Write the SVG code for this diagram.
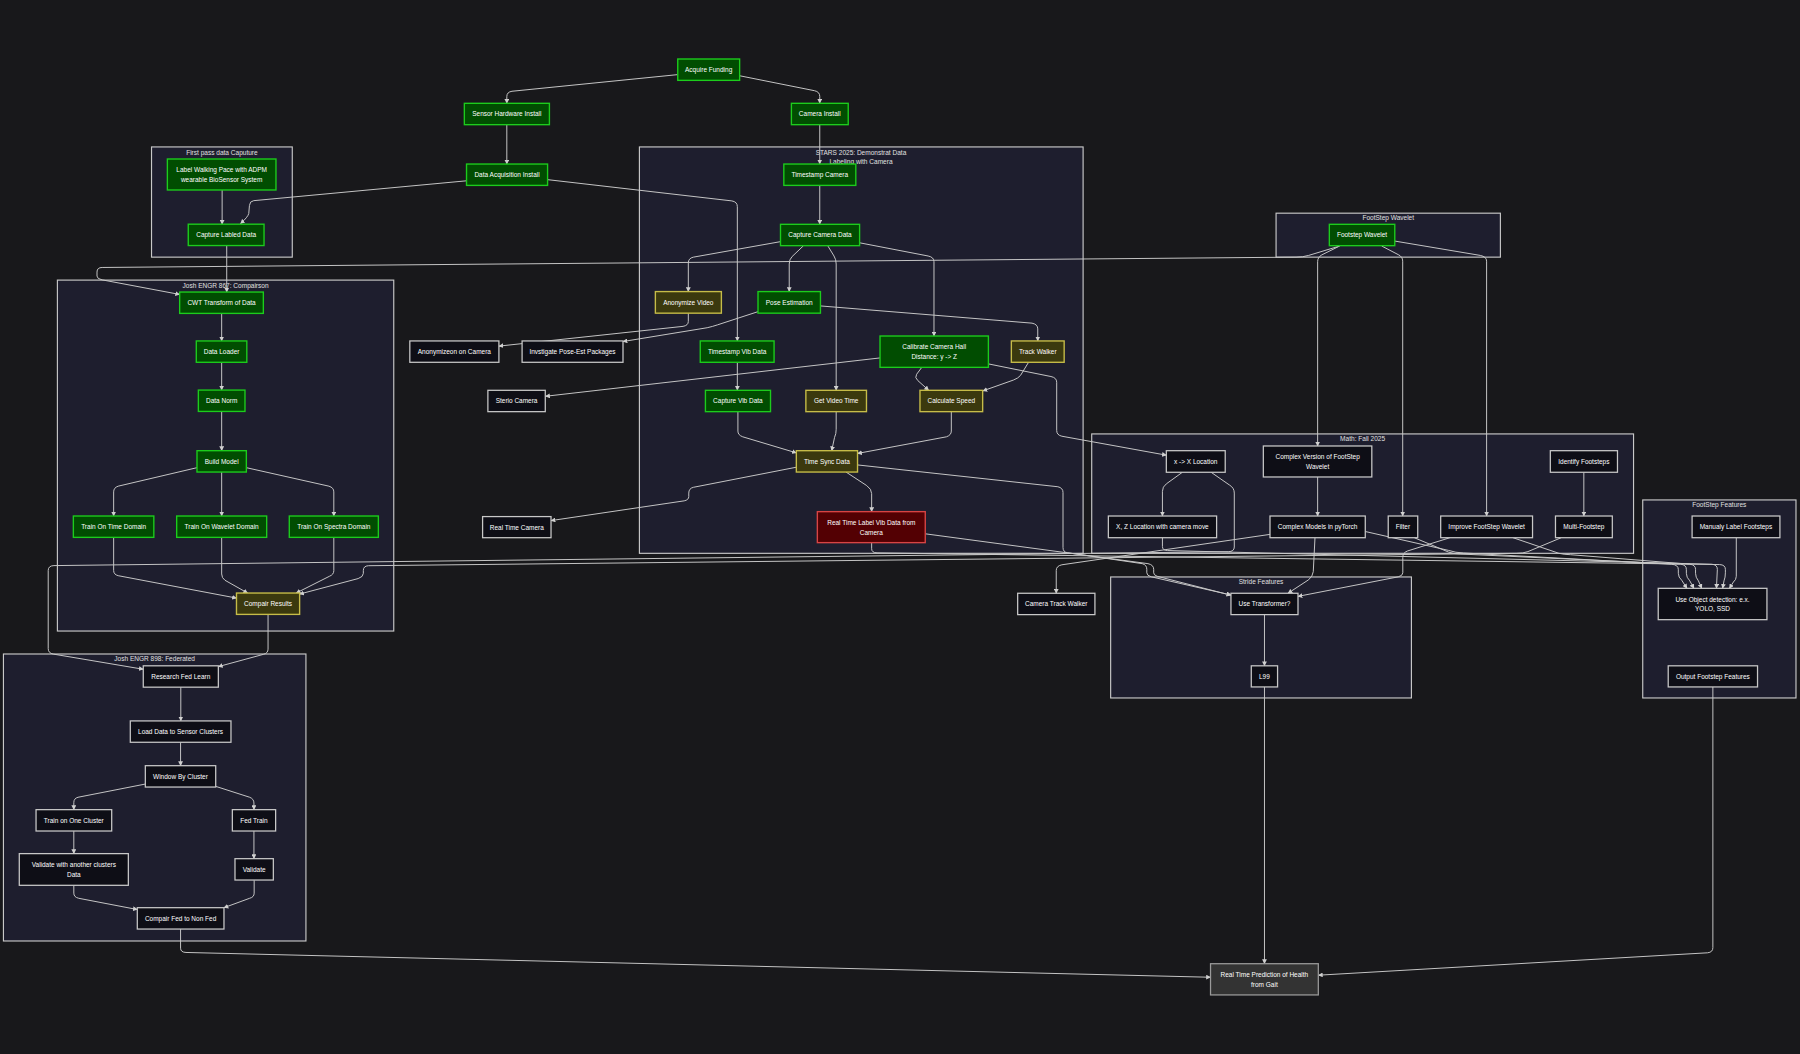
<svg xmlns="http://www.w3.org/2000/svg" width="1800" height="1054" viewBox="0 0 1800 1054">
<defs>
<style>
.cl{fill:#1e1e2e;stroke:#c8c8c8;stroke-width:1}
.ct{font-family:"Liberation Sans",Arial,sans-serif;font-size:5.7px;fill:#e0e0e0;text-anchor:middle;dominant-baseline:central}
.e{fill:none;stroke:#c8c8c8;stroke-width:0.85;marker-end:url(#ah)}
.nt{font-family:"Liberation Sans",Arial,sans-serif;font-size:5.66px;fill:#fff;text-anchor:middle;dominant-baseline:central}
.g rect{fill:#014d01;stroke:#1ccc1c;stroke-width:1.2}
.y rect{fill:#3b390e;stroke:#c6bc48;stroke-width:1.2}
.r rect{fill:#530003;stroke:#d84444;stroke-width:1.2}
.d rect{fill:#0e0e16;stroke:#c8c8c8;stroke-width:1.1}
.f rect{fill:#333333;stroke:#9a9a9a;stroke-width:1.1}
</style>
<marker id="ah" viewBox="0 0 10 10" refX="9" refY="5" markerWidth="4.2" markerHeight="4.2" markerUnits="userSpaceOnUse" orient="auto"><path d="M0,0L10,5L0,10z" fill="#d0d0d0"/></marker>
</defs>
<rect width="1800" height="1054" fill="#18181b"/>
<g transform="scale(1.14796)">
<g id="clusters">
<g id="c_fp"><rect class="cl" x="132" y="128" width="122.6" height="96"/><text class="ct" x="193.3" y="133">First pass data Caputure</text></g>
<g id="c_stars"><rect class="cl" x="557" y="128" width="386.5" height="354"/><text class="ct" x="750" y="133">STARS 2025: Demonstrat Data</text><text class="ct" x="750" y="140.8">Labeling with Camera</text></g>
<g id="c_j867"><rect class="cl" x="50" y="244" width="293" height="305.7"/><text class="ct" x="196.5" y="248.8">Josh ENGR 867: Compairson</text></g>
<g id="c_j898"><rect class="cl" x="3" y="569.7" width="263.5" height="250"/><text class="ct" x="134.7" y="573.8">Josh ENGR 898: Federated</text></g>
<g id="c_fw"><rect class="cl" x="1111.6" y="185.7" width="195.4" height="38.3"/><text class="ct" x="1209.3" y="189.7">FootStep Wavelet</text></g>
<g id="c_math"><rect class="cl" x="951" y="378" width="472" height="104"/><text class="ct" x="1187" y="382">Math: Fall 2025</text></g>
<g id="c_stride"><rect class="cl" x="967.5" y="502.6" width="262" height="105.4"/><text class="ct" x="1098.5" y="506.7">Stride Features</text></g>
<g id="c_ff"><rect class="cl" x="1431" y="435.5" width="133.5" height="172.5"/><text class="ct" x="1497.7" y="439.6">FootStep Features</text></g>
</g>
<g id="edges">
<path class="e" d="M590.4,65 L446,79.5 Q441.5,80.2 441.5,84 L441.5,90"/>
<path class="e" d="M644.3,66 L709.5,79 Q714.1,80 714.1,84 L714.1,90"/>
<path class="e" d="M441.5,108.6 L441.5,142.9"/>
<path class="e" d="M714.1,108.6 L714.1,142.9"/>
<path class="e" d="M714.1,161.5 L714.1,195.4"/>
<path class="e" d="M406.4,157.5 L221,174.8 Q217.5,175.2 217.3,179 L216.7,186 Q216,189 209.5,194.8"/>
<path class="e" d="M193.5,165.5 L193.5,195.3"/>
<path class="e" d="M477,156.5 L637.5,175 Q642.3,175.8 642.3,180 L642.3,297"/>
<path class="e" d="M197.5,214 L197.5,254.4"/>
<path class="e" d="M1167,214.3 L1140,222.5 Q1135,224 1129,224 L89,233 Q84.5,233 84.5,237 L84.5,240.5 Q84.5,243 89,243.8 L156.5,256.5"/>
<path class="e" d="M193.1,273 L193.1,297"/>
<path class="e" d="M193.1,315.6 L193.1,339.8"/>
<path class="e" d="M193.1,358.4 L193.1,392.6"/>
<path class="e" d="M171.6,407.4 L103,423.5 Q99,424.8 99,428.5 L99,449.5"/>
<path class="e" d="M193.1,411.2 L193.1,449.5"/>
<path class="e" d="M214.6,407.4 L286.5,423.5 Q290.8,424.8 290.8,428.5 L290.8,449.5"/>
<path class="e" d="M99,468.2 L99,497 Q99,500.5 103,501.5 L206,521"/>
<path class="e" d="M193.1,468.2 L193.1,500 Q193.1,503.5 196,505.5 L215.7,516.6"/>
<path class="e" d="M290.8,468.2 L290.8,497 Q290.8,500.5 287,502 L258,516.6"/>
<path class="e" d="M233.5,535.2 L233.5,565.5 Q233.5,569 229.5,570 L190.2,580.7"/>
<path class="e" d="M157.5,598.6 L157.5,628"/>
<path class="e" d="M157.3,646.6 L157.3,667"/>
<path class="e" d="M126.6,683 L68,694.5 Q64.3,695.5 64.3,699 L64.3,705.3"/>
<path class="e" d="M187.9,685 L217.5,694.5 Q221.2,696 221.2,699.5 L221.2,705.3"/>
<path class="e" d="M64.3,724 L64.3,743.6"/>
<path class="e" d="M221.2,724 L221.2,748"/>
<path class="e" d="M64.3,771.2 L64.3,778 Q64.3,781.5 68.5,782.5 L119.6,792.3"/>
<path class="e" d="M221.4,766.8 L221.4,778 Q221.4,781.5 217.5,782.5 L195.1,790.7"/>
<path class="e" d="M157.3,809.3 L157.3,826 Q157.3,829.5 162,829.7 L1054.5,851.3"/>
<path class="e" d="M1492.1,598.4 L1492.1,825.5 Q1492.1,829.5 1487.5,830 L1148.4,849.5"/>
<path class="e" d="M1101.5,535.4 L1101.5,580"/>
<path class="e" d="M1101.5,598.4 L1101.5,839.5"/>
<path class="e" d="M1512.5,468.4 L1512.5,502 Q1512.5,505 1510,507 L1506.5,512.5"/>
<path class="e" d="M1379.7,411.4 L1379.7,449.5"/>
<path class="e" d="M1147.8,415.5 L1147.8,449.5"/>
<path class="e" d="M1167,214.3 L1151.5,222 Q1147.8,224 1147.8,228 L1147.8,388.5"/>
<path class="e" d="M1203.6,214.3 L1218,221.8 Q1221.9,223.6 1221.9,227.5 L1221.9,449.5"/>
<path class="e" d="M1215,210 L1289.5,222.5 Q1295,223.6 1295,227.5 L1295,449.5"/>
<path class="e" d="M1030,411.4 L1016,421.5 Q1012.6,424 1012.6,428 L1012.6,449.5"/>
<path class="e" d="M679.9,210.5 L604,224 Q599.6,225 599.6,229 L599.6,254"/>
<path class="e" d="M700,214 L690,223.5 Q687.5,226 687.5,230 L687.5,254"/>
<path class="e" d="M721,214 L726.5,223 Q728.4,226 728.4,230 L728.4,340"/>
<path class="e" d="M748.8,211.5 L808.5,223 Q813.6,224 813.6,228 L813.6,292.7"/>
<path class="e" d="M714.7,266.5 L899,281.5 Q904,282.5 904,286.5 L904,297"/>
<path class="e" d="M660.3,271.5 L625,283 Q620.6,284.5 616,285.5 L542.7,297.5"/>
<path class="e" d="M599.6,272.8 L599.6,280 Q599.6,283.5 595,284.3 L434.6,301.5"/>
<path class="e" d="M766.6,311.8 L475.2,345.2"/>
<path class="e" d="M803,320 L798.5,326 Q796.5,329 799.5,331.5 L809,340"/>
<path class="e" d="M896,315.6 L889,327 Q887,329.5 883,331 L856.2,340.5"/>
<path class="e" d="M861,317 L915.5,328 Q920.5,329 920.5,333 L920.5,375 Q920.5,379 925,380 L1016,396.5"/>
<path class="e" d="M642.3,315.6 L642.3,340"/>
<path class="e" d="M642.8,358.6 L642.8,375.5 Q642.8,379 647,380.5 L693.7,394.5"/>
<path class="e" d="M728.4,358.6 L728.4,374 Q728.4,378 727,381 L724.5,392.6"/>
<path class="e" d="M828.7,358.6 L828.7,375.5 Q828.7,379 824.5,380.5 L747,395"/>
<path class="e" d="M693.7,407 L604,424.5 Q600,425.5 600,429.5 L600,432.5 Q600,435.5 596,436.3 L480,453.5"/>
<path class="e" d="M737,411.2 L755,423 Q759.3,426 759.3,430 L759.3,445.7"/>
<path class="e" d="M747,405 L921.5,424 Q926,425 926,429 L926,477 Q926,481 930,481.5 L995,491 Q999,492 999,496 L999,499 Q999,501.5 1003,502.5 L1072.3,518.3"/>
<path class="e" d="M806,465 L1000,491 Q1005,492 1005,496 L1005,499 Q1005,501 1008,502 L1072.3,518.5"/>
<path class="e" d="M1145.5,468.4 L1144,498 Q1143.5,502 1140,505 L1122,516.8"/>
<path class="e" d="M1263,468.4 L1226,480 Q1222,481.5 1222,485.5 L1222,499 Q1222,501.5 1218,502.5 L1130.7,519.5"/>
<path class="e" d="M1106.3,465.5 L925,492 Q920.1,493 920.1,497 L920.1,516.8"/>
<path class="e" d="M759.3,472.7 L759.3,478 Q759.3,481.5 764,481.6 L1498,491.8 Q1503,492 1503,496 L1503,499 Q1503,503 1501.8,506 L1500.6,512.5"/>
<path class="e" d="M1012.6,468.4 L1012.6,476 Q1012.6,479.5 1017,479.6 L1491,491.5 Q1496,491.8 1496,496 L1495.2,512.5"/>
<path class="e" d="M1189.3,463 L1262,479.5 Q1268,481.5 1275,481.7 L1456,491.5 Q1462,492 1462,496 L1462,499.4 Q1462,503 1465,505.5 L1469.5,512.5"/>
<path class="e" d="M1232,468.4 L1262,481 Q1266,482.5 1272,482.6 L1464,491.5 Q1469,492 1469,496 L1469,499.4 Q1469,503 1472,506 L1475.6,512.5"/>
<path class="e" d="M1318,468.4 L1358,482 Q1362,483 1368,483.2 L1472,491.5 Q1477,492 1477,496 L1477,499.4 Q1477,503 1479.5,506 L1482.4,512.5"/>
<path class="e" d="M1360,468.4 L1331,480.5 Q1327,482 1321,482 L321,492.8 Q316.5,493 316.5,497 L316.5,499.5 Q316.5,502.5 312,504 L261,517.5"/>
<path class="e" d="M1055,411.4 L1071,422.5 Q1075.2,425 1075.2,429.5 L1075.2,476.5 Q1075.2,480.5 1070,480.6 L47,492.7 Q42,492.8 42,497 L42,565 Q42,569 46.5,569.8 L124.8,583"/>
</g>
<g id="nodes">
<g id="n_af" class="g"><rect x="590.4" y="51.4" width="53.9" height="18.6"/><text class="nt" x="617.3" y="60.7">Acquire Funding</text></g>
<g id="n_shi" class="g"><rect x="404.5" y="90" width="74.1" height="18.6"/><text class="nt" x="441.5" y="99.3">Sensor Hardware Install</text></g>
<g id="n_ci" class="g"><rect x="689.4" y="90" width="49.5" height="18.6"/><text class="nt" x="714.1" y="99.3">Camera Install</text></g>
<g id="n_dai" class="g"><rect x="406.4" y="142.9" width="70.6" height="18.6"/><text class="nt" x="441.7" y="152.2">Data Acquisition Install</text></g>
<g id="n_tc" class="g"><rect x="682.8" y="142.9" width="62.7" height="18.6"/><text class="nt" x="714.1" y="152.2">Timestamp Camera</text></g>
<g id="n_ccd" class="g"><rect x="679.9" y="195.4" width="68.9" height="18.6"/><text class="nt" x="714.3" y="204.7">Capture Camera Data</text></g>
<g id="n_lwp" class="g"><rect x="145.8" y="138.5" width="94.6" height="27"/><text class="nt" x="193.1" y="147.7">Label Walking Pace with ADPM</text><text class="nt" x="193.1" y="156.4">wearable BioSensor System</text></g>
<g id="n_cld" class="g"><rect x="164" y="195.3" width="66" height="18.6"/><text class="nt" x="197" y="204.6">Capture Labled Data</text></g>
<g id="n_cwt" class="g"><rect x="156.5" y="254.4" width="72.9" height="18.6"/><text class="nt" x="193" y="263.7">CWT Transform of Data</text></g>
<g id="n_dl" class="g"><rect x="171" y="297" width="44" height="18.6"/><text class="nt" x="193" y="306.3">Data Loader</text></g>
<g id="n_dn" class="g"><rect x="172.8" y="339.8" width="40.6" height="18.6"/><text class="nt" x="193.1" y="349.1">Data Norm</text></g>
<g id="n_bm" class="g"><rect x="171.6" y="392.6" width="43" height="18.6"/><text class="nt" x="193.1" y="401.9">Build Model</text></g>
<g id="n_ttd" class="g"><rect x="63.9" y="449.5" width="70.1" height="18.6"/><text class="nt" x="99" y="458.8">Train On Time Domain</text></g>
<g id="n_twd" class="g"><rect x="153.9" y="449.5" width="78.4" height="18.6"/><text class="nt" x="193.1" y="458.8">Train On Wavelet Domain</text></g>
<g id="n_tsd" class="g"><rect x="252" y="449.5" width="77.6" height="18.6"/><text class="nt" x="290.8" y="458.8">Train On Spectra Domain</text></g>
<g id="n_cr" class="y"><rect x="206" y="516.6" width="55" height="18.6"/><text class="nt" x="233.5" y="525.9">Compair Results</text></g>
<g id="n_rfl" class="d"><rect x="124.8" y="580" width="65.4" height="18.6"/><text class="nt" x="157.5" y="589.3">Research Fed Learn</text></g>
<g id="n_ld" class="d"><rect x="113.5" y="628" width="87.7" height="18.6"/><text class="nt" x="157.3" y="637.3">Load Data to Sensor Clusters</text></g>
<g id="n_wbc" class="d"><rect x="126.6" y="667" width="61.3" height="18.6"/><text class="nt" x="157.2" y="676.3">Window By Cluster</text></g>
<g id="n_toc" class="d"><rect x="31.4" y="705.3" width="65.9" height="18.6"/><text class="nt" x="64.3" y="714.6">Train on One Cluster</text></g>
<g id="n_ft" class="d"><rect x="202.4" y="705.3" width="37.7" height="18.6"/><text class="nt" x="221.2" y="714.6">Fed Train</text></g>
<g id="n_vwa" class="d"><rect x="16.8" y="743.6" width="95" height="27.6"/><text class="nt" x="64.3" y="753">Validate with another clusters</text><text class="nt" x="64.3" y="761.7">Data</text></g>
<g id="n_val" class="d"><rect x="204.7" y="748" width="33.4" height="18.6"/><text class="nt" x="221.4" y="757.3">Validate</text></g>
<g id="n_cfn" class="d"><rect x="119.6" y="790.7" width="75.5" height="18.6"/><text class="nt" x="157.3" y="800">Compair Fed to Non Fed</text></g>
<g id="n_av" class="y"><rect x="570.9" y="254" width="57.5" height="18.8"/><text class="nt" x="599.6" y="263.4">Anonymize Video</text></g>
<g id="n_pe" class="g"><rect x="660.3" y="254" width="54.4" height="18.8"/><text class="nt" x="687.5" y="263.4">Pose Estimation</text></g>
<g id="n_tvd" class="g"><rect x="610" y="297" width="64.3" height="18.6"/><text class="nt" x="642.1" y="306.3">Timestamp Vib Data</text></g>
<g id="n_cal" class="g"><rect x="766.6" y="292.7" width="94.4" height="27.3"/><text class="nt" x="813.8" y="302">Calibrate Camera Hall</text><text class="nt" x="813.8" y="310.7">Distance: y -&gt; Z</text></g>
<g id="n_tw" class="y"><rect x="881" y="297" width="46" height="18.6"/><text class="nt" x="904" y="306.3">Track Walker</text></g>
<g id="n_cvd" class="g"><rect x="614.5" y="340" width="56.7" height="18.6"/><text class="nt" x="642.8" y="349.3">Capture Vib Data</text></g>
<g id="n_gvt" class="y"><rect x="702" y="340" width="52.8" height="18.6"/><text class="nt" x="728.4" y="349.3">Get Video Time</text></g>
<g id="n_cs" class="y"><rect x="801.4" y="340" width="54.6" height="18.6"/><text class="nt" x="828.7" y="349.3">Calculate Speed</text></g>
<g id="n_tsy" class="y"><rect x="693.7" y="392.6" width="53.3" height="18.6"/><text class="nt" x="720.3" y="401.9">Time Sync Data</text></g>
<g id="n_rtl" class="r"><rect x="712" y="445.7" width="94" height="27"/><text class="nt" x="759" y="454.9">Real Time Label Vib Data from</text><text class="nt" x="759" y="463.6">Camera</text></g>
<g id="n_aoc" class="d"><rect x="357" y="297" width="77.6" height="18.6"/><text class="nt" x="395.8" y="306.3">Anonymizeon on Camera</text></g>
<g id="n_ipe" class="d"><rect x="454.8" y="297" width="87.9" height="18.6"/><text class="nt" x="498.7" y="306.3">Invstigate Pose-Est Packages</text></g>
<g id="n_sc" class="d"><rect x="425" y="340" width="50" height="18.6"/><text class="nt" x="450" y="349.3">Sterio Camera</text></g>
<g id="n_rtc" class="d"><rect x="420.4" y="450" width="59.6" height="18.4"/><text class="nt" x="450.2" y="459.2">Real Time Camera</text></g>
<g id="n_fw" class="g"><rect x="1158" y="195.4" width="57" height="18.6"/><text class="nt" x="1186.5" y="204.7">Footstep Wavelet</text></g>
<g id="n_xx" class="d"><rect x="1016" y="392.6" width="51.3" height="18.8"/><text class="nt" x="1041.6" y="402">x -&gt; X Location</text></g>
<g id="n_cvf" class="d"><rect x="1100.5" y="388.5" width="94.5" height="27"/><text class="nt" x="1147.8" y="397.7">Complex Version of FootStep</text><text class="nt" x="1147.8" y="406.4">Wavelet</text></g>
<g id="n_idf" class="d"><rect x="1350.5" y="392.6" width="58.5" height="18.8"/><text class="nt" x="1379.7" y="402">Identify Footsteps</text></g>
<g id="n_xz" class="d"><rect x="965.5" y="449.5" width="94.3" height="18.9"/><text class="nt" x="1012.6" y="459">X, Z Location with camera move</text></g>
<g id="n_cm" class="d"><rect x="1106.3" y="449.5" width="83" height="18.9"/><text class="nt" x="1147.8" y="459">Complex Models in pyTorch</text></g>
<g id="n_fil" class="d"><rect x="1209.3" y="449.5" width="25.7" height="18.9"/><text class="nt" x="1222.1" y="459">Filter</text></g>
<g id="n_ifw" class="d"><rect x="1255" y="449.5" width="80" height="18.9"/><text class="nt" x="1295" y="459">Improve FootStep Wavelet</text></g>
<g id="n_mf" class="d"><rect x="1355" y="449.5" width="49.5" height="18.9"/><text class="nt" x="1379.7" y="459">Multi-Footstep</text></g>
<g id="n_ctw" class="d"><rect x="886.5" y="516.8" width="67.3" height="18.6"/><text class="nt" x="920.1" y="526.1">Camera Track Walker</text></g>
<g id="n_ut" class="d"><rect x="1072.3" y="516.8" width="58.4" height="18.6"/><text class="nt" x="1101.5" y="526.1">Use Transformer?</text></g>
<g id="n_l99" class="d"><rect x="1090" y="580" width="22.9" height="18.4"/><text class="nt" x="1101.4" y="589.2">L99</text></g>
<g id="n_mlf" class="d"><rect x="1474" y="449.5" width="76.5" height="18.9"/><text class="nt" x="1512.2" y="459">Manualy Label Footsteps</text></g>
<g id="n_uod" class="d"><rect x="1444.5" y="512.5" width="94.7" height="27.3"/><text class="nt" x="1491.8" y="521.8">Use Object detection: e.x.</text><text class="nt" x="1491.8" y="530.5">YOLO, SSD</text></g>
<g id="n_off" class="d"><rect x="1453.2" y="580" width="77.8" height="18.4"/><text class="nt" x="1492.1" y="589.2">Output Footstep Features</text></g>
<g id="n_rtp" class="f"><rect x="1054.5" y="839.5" width="93.9" height="27.2"/><text class="nt" x="1101.4" y="848.8">Real Time Prediction of Health</text><text class="nt" x="1101.4" y="857.5">from Gait</text></g>
</g>
</g>
</svg>
